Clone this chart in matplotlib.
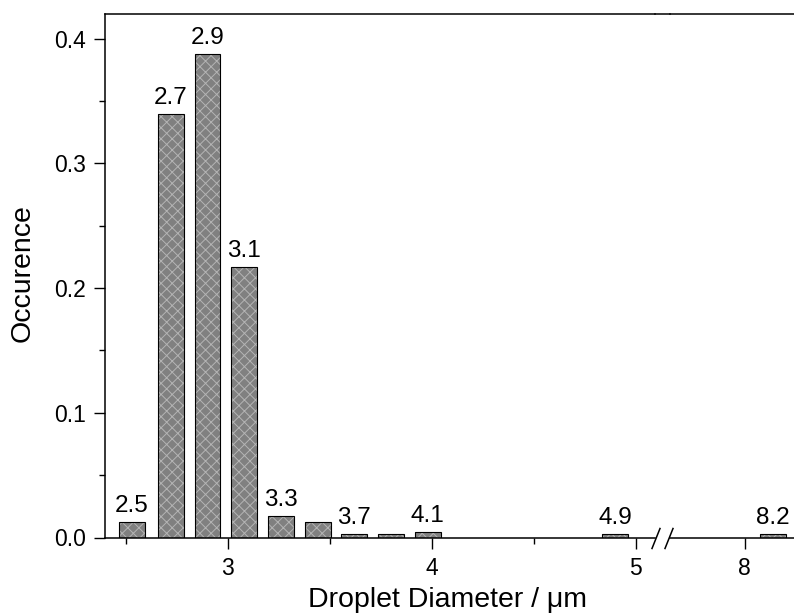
import matplotlib.pyplot as plt
from matplotlib.ticker import MultipleLocator

plt.rcParams['font.family'] = ['Liberation Sans', 'DejaVu Sans']
plt.rcParams['hatch.linewidth'] = 0.7

# bar centres (um) and occurrence
x_left = [2.53, 2.72, 2.90, 3.08, 3.26, 3.44, 3.62, 3.80, 3.98, 4.90]
y_left = [0.0122, 0.3395, 0.3876, 0.2165, 0.0172, 0.0122, 0.0026, 0.0026, 0.0042, 0.0026]
lab_left = ['2.5', '2.7', '2.9', '3.1', '3.3', '', '3.7', '', '4.1', '4.9']
x_right = [8.14]
y_right = [0.0026]
lab_right = ['8.2']

W, H = 794, 614
fig = plt.figure(figsize=(W / 100, H / 100), dpi=100)
bot = (H - 537.5) / H
top = 1 - 14 / H
ax1 = fig.add_axes([105 / W, bot, (655 - 105) / W, top - bot])
ax2 = fig.add_axes([670 / W, bot, (W - 670) / W + 0.01, top - bot])

bw = 0.127
face = '#808080'
hatchc = '#b4b4b4'


def draw(ax, xs, ys, labs):
    ax.bar(xs, ys, width=bw, color=face, edgecolor=hatchc, hatch='xxx', linewidth=0)
    ax.bar(xs, ys, width=bw, fill=False, edgecolor='black', linewidth=0.8)
    for xv, yv, t in zip(xs, ys, labs):
        if t:
            ax.annotate(t, (xv, yv), xytext=(0, 7.5), textcoords='offset points',
                        ha='center', va='baseline', fontsize=17.5)


draw(ax1, x_left, y_left, lab_left)
draw(ax2, x_right, y_right, lab_right)

ymax = (537.5 - 14) / 1247.5
for ax in (ax1, ax2):
    ax.set_ylim(0, ymax)
    for s in ax.spines.values():
        s.set_linewidth(1.1)
    ax.tick_params(axis='both', which='major', direction='out', length=8, width=1.0,
                   labelsize=16.5)
    ax.tick_params(axis='both', which='minor', direction='out', length=4.5, width=1.0)
    ax.tick_params(axis='x', which='major', pad=6.3)
    ax.tick_params(axis='y', which='major', pad=5.8)

ax1.set_xlim(2.397, 5.095)
ax1.xaxis.set_major_locator(MultipleLocator(1))
ax1.xaxis.set_minor_locator(MultipleLocator(0.5))
ax1.yaxis.set_major_locator(MultipleLocator(0.1))
ax1.yaxis.set_minor_locator(MultipleLocator(0.05))
ax1.yaxis.set_major_formatter(lambda v, p: f'{v:.1f}')
ax1.spines['right'].set_visible(False)

ax2.set_xlim(7.627, 7.627 + (W - 670) / 204 + 0.05)
ax2.xaxis.set_major_locator(MultipleLocator(1))
ax2.xaxis.set_minor_locator(MultipleLocator(0.5))
ax2.spines['left'].set_visible(False)
ax2.spines['right'].set_visible(False)
ax2.set_yticks([])

fig.text(22.5 / W, 1 - 273 / H, 'Occurence', ha='center', va='center',
         rotation=90, fontsize=20.5)
fig.text(447 / W, 1 - 600 / H, 'Droplet Diameter / μm', ha='center', va='center',
         fontsize=20.5)

# break marks
y0 = 537.5
for xc in (656, 669):
    fig.add_artist(plt.Line2D([(xc - 4) / W, (xc + 4) / W],
                              [1 - (y0 + 11) / H, 1 - (y0 - 9) / H],
                              color='black', lw=1.1))
# top spine across the gap
fig.add_artist(plt.Line2D([655 / W, 670 / W], [top, top], color='black', lw=1.1))

plt.savefig('out.png', dpi=100)
